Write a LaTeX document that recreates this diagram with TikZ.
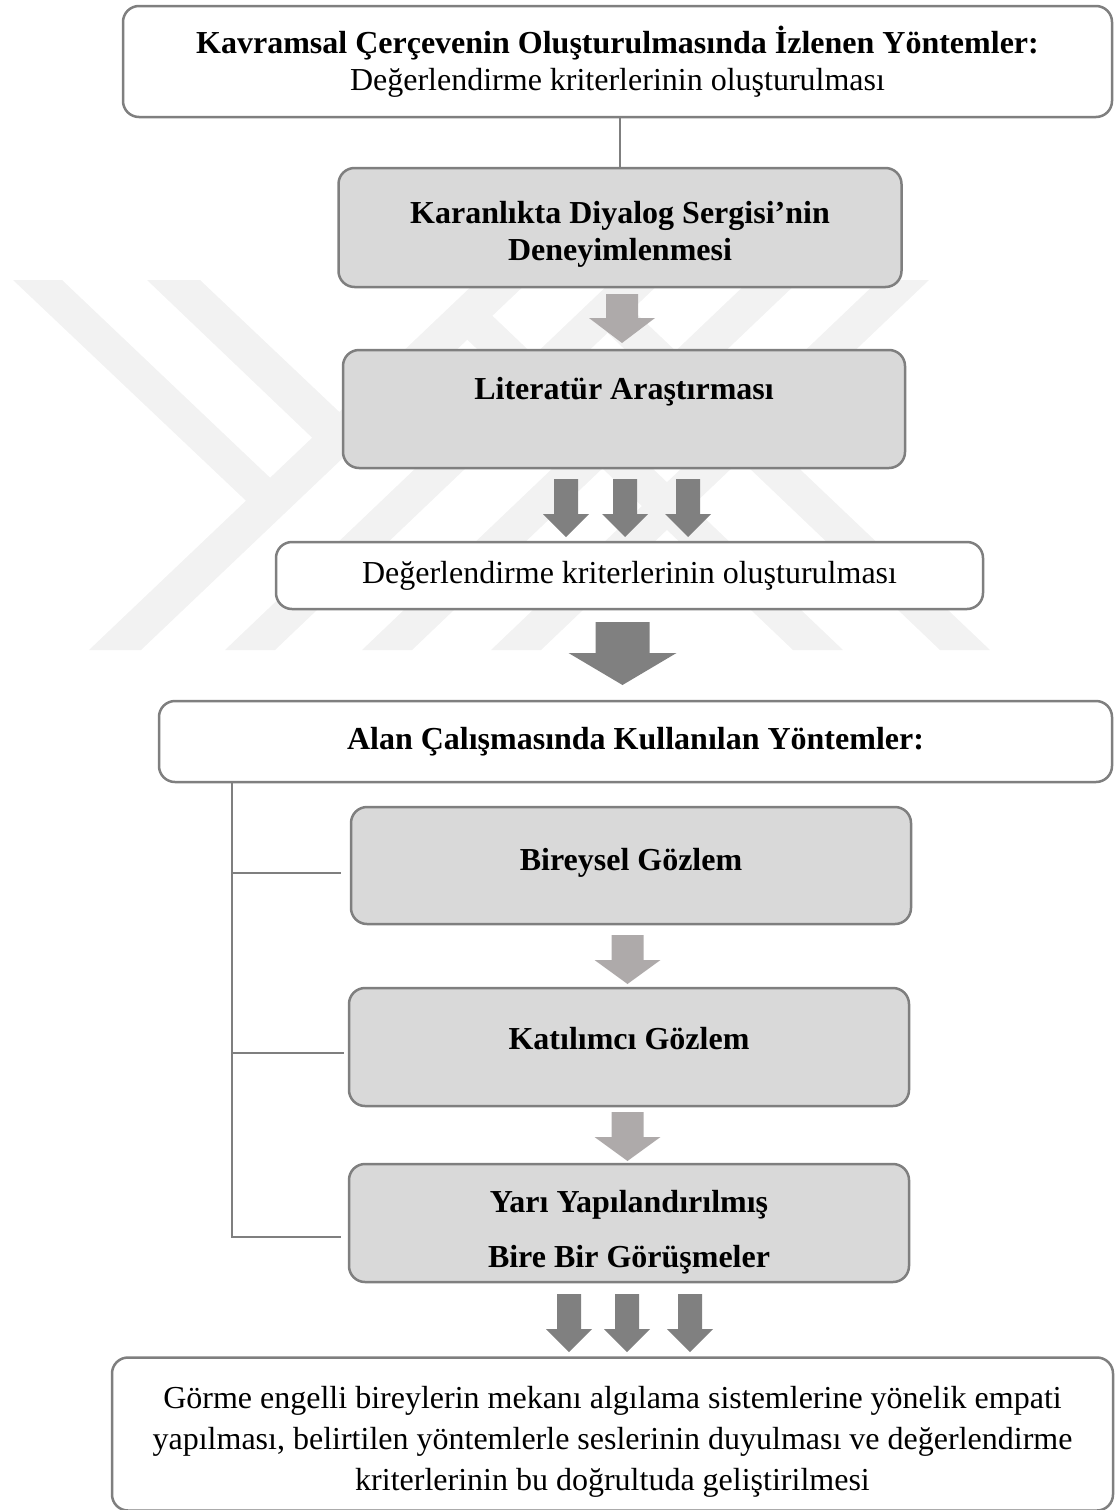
\documentclass[tikz,border=0pt]{standalone}
\usepackage{fontspec}
\setmainfont{Liberation Serif}
\usepackage{xcolor}
\usepackage{tikz}

\definecolor{boxline}{RGB}{127,127,127}
\definecolor{boxfill}{RGB}{217,217,217}
\definecolor{lightarrow}{RGB}{174,170,170}
\definecolor{darkarrow}{RGB}{128,128,128}
\definecolor{wmgray}{RGB}{242,242,242}

\newcommand{\boxfont}{\fontsize{32}{37}\selectfont}

% block arrow: colour, x, y top, y head, y tip, half shaft, half head
\newcommand{\blockarrow}[7]{%
  \fill[#1] (#2-#6,#3) -- (#2+#6,#3) -- (#2+#6,#4) -- (#2+#7,#4) -- (#2,#5)
    -- (#2-#7,#4) -- (#2-#6,#4) -- cycle;}

\tikzset{
  whitebox/.style={draw=boxline, line width=2.5pt, rounded corners=16pt, fill=white,
    align=center, inner sep=0pt, font=\boxfont},
  graybox/.style={whitebox, fill=boxfill, font=\boxfont\bfseries},
  link/.style={draw=boxline, line width=2pt}
}

\begin{document}
\begin{tikzpicture}[x=1pt, y=-1pt]
    \useasboundingbox (0,0) rectangle (1119,1510);

    % watermark
    \fill[wmgray] (89,650) -- (141,650) -- (530,280) -- (478,280) -- cycle;
    \fill[wmgray] (225,650) -- (275,650) -- (663,280) -- (613,280) -- cycle;
    \fill[wmgray] (362,650) -- (412,650) -- (800,280) -- (750,280) -- cycle;
    \fill[wmgray] (491,650) -- (541,650) -- (929,280) -- (879,280) -- cycle;
    \fill[wmgray] (13,280) -- (62,280) -- (283,490) -- (260,514) -- cycle;
    \fill[wmgray] (147,280) -- (200,280) -- (352,424) -- (325,450) -- cycle;
    \fill[wmgray] (454,327) -- (479,303) -- (843,650) -- (793,650) -- cycle;
    \fill[wmgray] (595,321) -- (620,298) -- (990,650) -- (940,650) -- cycle;

    \node[whitebox, minimum width=989pt, minimum height=111pt] (kavram) at (617.5,61.5)
        {\rule{0pt}{26pt}\textbf{Kavramsal Çerçevenin Oluşturulmasında İzlenen Yöntemler:}\\
         Değerlendirme kriterlerinin oluşturulması};
    \node[graybox, minimum width=563pt, minimum height=119pt] (karanlik) at (620,227.5)
        {\rule{0pt}{35pt}Karanlıkta Diyalog Sergisi’nin\\Deneyimlenmesi};
    \node[graybox, minimum width=562pt, minimum height=118pt,
        text height=20pt, text depth=40pt] (literatur) at (624,409)
        {Literatür Araştırması};
    \node[whitebox, minimum width=707pt, minimum height=67pt] (kriter) at (629.5,575.5)
        {Değerlendirme kriterlerinin oluşturulması};
    \node[whitebox, font=\boxfont\bfseries, minimum width=953pt, minimum height=81pt] (alan) at (635.5,741.5)
        {Alan Çalışmasında Kullanılan Yöntemler:};
    \node[graybox, minimum width=560pt, minimum height=117pt,
        text height=22pt, text depth=12pt] (bireysel) at (631,865.5)
        {Bireysel Gözlem};
    \node[graybox, minimum width=560pt, minimum height=118pt,
        text height=22pt, text depth=18pt] (katilimci) at (629,1047)
        {Katılımcı Gözlem};
    \node[graybox, minimum width=560pt, minimum height=118pt] (gorusme) at (629,1223)
        {\rule{0pt}{41pt}Yarı Yapılandırılmış\\[18pt]Bire Bir Görüşmeler};
    \node[whitebox, minimum width=1001pt, minimum height=153pt] (sonuc) at (612.5,1434)
        {\rule{0pt}{38pt}Görme engelli bireylerin mekanı algılama sistemlerine yönelik empati\\[4pt]
         yapılması, belirtilen yöntemlerle seslerinin duyulması ve değerlendirme\\[4pt]
         kriterlerinin bu doğrultuda geliştirilmesi};

    \draw[link] (karanlik.north) -- (karanlik.north |- kavram.south);

    \coordinate (kok) at (232,782);
    \coordinate (bir) at (341,873);
    \coordinate (iki) at (344,1053);
    \coordinate (uc) at (341,1237);
    \draw[link] (kok) -- (kok |- uc) -- (uc);
    \draw[link] (kok |- bir) -- (bir);
    \draw[link] (kok |- iki) -- (iki);

    \blockarrow{lightarrow}{622}{294}{318}{343}{16}{33}
    \foreach \x in {566,625,688}
        {\blockarrow{darkarrow}{\x}{479}{514}{537}{12}{23}}
    \blockarrow{darkarrow}{622.5}{622}{653}{685}{27}{54}
    \blockarrow{lightarrow}{627.5}{935}{960}{984}{16}{33}
    \blockarrow{lightarrow}{627.5}{1112}{1137}{1161}{16}{33}
    \foreach \x in {569,627,690}
        {\blockarrow{darkarrow}{\x}{1294}{1329}{1352}{12}{23}}
\end{tikzpicture}
\end{document}
